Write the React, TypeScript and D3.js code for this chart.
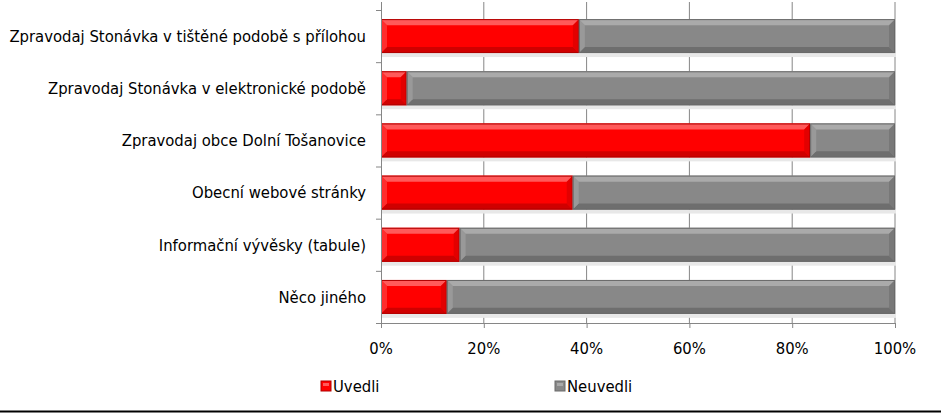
import * as d3 from "d3";

const categories = [
  "Zpravodaj Stonávka v tištěné podobě s přílohou",
  "Zpravodaj Stonávka v elektronické podobě",
  "Zpravodaj obce Dolní Tošanovice",
  "Obecní webové stránky",
  "Informační vývěsky (tabule)",
  "Něco jiného",
];
const uvedli = [38.5, 5.0, 83.5, 37.3, 15.3, 12.8];
const neuvedli = uvedli.map((v) => 100 - v);
const seriesNames = ["Uvedli", "Neuvedli"];
const tickValues = [0, 20, 40, 60, 80, 100];

const W = 941;
const H = 414;
const FONT = "'DejaVu Sans Condensed', 'DejaVu Sans', sans-serif";
const FS = 16.5;

const palette = [
  { base: "#ff0000", light: "#ff5a5a", dark: "#d00000", edge: "#b00000" },
  { base: "#888888", light: "#aaaaaa", dark: "#6e6e6e", edge: "#6a6a6a" },
];

function Bevel({ x, y, w, h, c }: { x: number; y: number; w: number; h: number; c: typeof palette[0] }) {
  const b = Math.min(6, w / 2);
  return (
    <g>
      <rect x={x} y={y} width={w} height={h} fill={c.base} />
      <polygon points={`${x},${y} ${x + w},${y} ${x + w - b},${y + b} ${x + b},${y + b}`} fill={c.light} />
      <polygon points={`${x},${y + h} ${x + w},${y + h} ${x + w - b},${y + h - b} ${x + b},${y + h - b}`} fill={c.dark} />
      <polygon points={`${x},${y} ${x + b},${y + b} ${x + b},${y + h - b} ${x},${y + h}`} fill={c.light} opacity={0.5} />
      <polygon points={`${x + w},${y} ${x + w - b},${y + b} ${x + w - b},${y + h - b} ${x + w},${y + h}`} fill={c.dark} opacity={0.6} />
      <rect x={x + 0.5} y={y + 0.5} width={w - 1} height={h - 1} fill="none" stroke={c.edge} strokeWidth={1} />
    </g>
  );
}

export default function App() {
  const left = 381;
  const right = 895;
  const top = 10;
  const bottom = 323;

  const x = d3.scaleLinear().domain([0, 100]).range([left, right]);
  const y = d3.scaleBand().domain(categories).range([top, bottom]).paddingInner(0.35).paddingOuter(0.175);
  const bh = y.bandwidth();

  const stack = d3.stack<number>().keys([0, 1]).value((i, k) => (k === 0 ? uvedli[i] : neuvedli[i]));
  const series = stack(categories.map((_, i) => i));

  return (
    <svg width={W} height={H} style={{ position: "absolute", left: 0, top: 0, display: "block" }}>
      <rect width={W} height={H} fill="#fff" />
      {tickValues.slice(1).map((t) => (
        <line key={t} x1={x(t)} x2={x(t)} y1={top - 8} y2={bottom} stroke="#868686" strokeWidth={1} />
      ))}
      {categories.map((c) => (
        <rect key={c + "s"} x={left + 1} y={(y(c) as number) + bh} width={right - left} height={4} fill="#e8e8e8" />
      ))}
      {series.map((s, si) =>
        s.map((d, i) => (
          <Bevel
            key={si + "-" + i}
            x={x(d[0])}
            y={y(categories[i]) as number}
            w={x(d[1]) - x(d[0])}
            h={bh}
            c={palette[si]}
          />
        ))
      )}
      <line x1={left + 0.5} x2={left + 0.5} y1={top - 8} y2={bottom + 5} stroke="#868686" />
      <line x1={left - 5} x2={right} y1={bottom + 0.5} y2={bottom + 0.5} stroke="#868686" />
      {d3.range(categories.length + 1).map((i) => {
        const yy = top + ((bottom - top) / categories.length) * i;
        return <line key={"yt" + i} x1={left - 5} x2={left} y1={yy + 0.5} y2={yy + 0.5} stroke="#868686" />;
      })}
      {tickValues.map((t) => (
        <g key={"xt" + t}>
          <line x1={x(t) + 0.5} x2={x(t) + 0.5} y1={bottom} y2={bottom + 5} stroke="#868686" />
          <text x={x(t)} y={bottom + 31} textAnchor="middle" fontFamily={FONT} fontSize={FS} fill="#000">
            {t}%
          </text>
        </g>
      ))}
      {categories.map((c) => (
        <text
          key={c}
          x={366}
          y={(y(c) as number) + bh / 2}
          dy="0.35em"
          textAnchor="end"
          fontFamily={FONT}
          fontSize={FS}
          fill="#000"
        >
          {c}
        </text>
      ))}
      {seriesNames.map((n, i) => {
        const lx = i === 0 ? 321 : 555;
        return (
          <g key={n}>
            <rect x={lx} y={381} width={10} height={10} fill={palette[i].base} stroke={palette[i].edge} />
            <rect x={lx + 2} y={383} width={6} height={3} fill={palette[i].light} />
            <text x={lx + 12} y={386} dy="0.35em" fontFamily={FONT} fontSize={FS} fill="#000">
              {n}
            </text>
          </g>
        );
      })}
      <line x1={0} x2={W} y1={411.5} y2={411.5} stroke="#000" strokeWidth={2} />
    </svg>
  );
}
